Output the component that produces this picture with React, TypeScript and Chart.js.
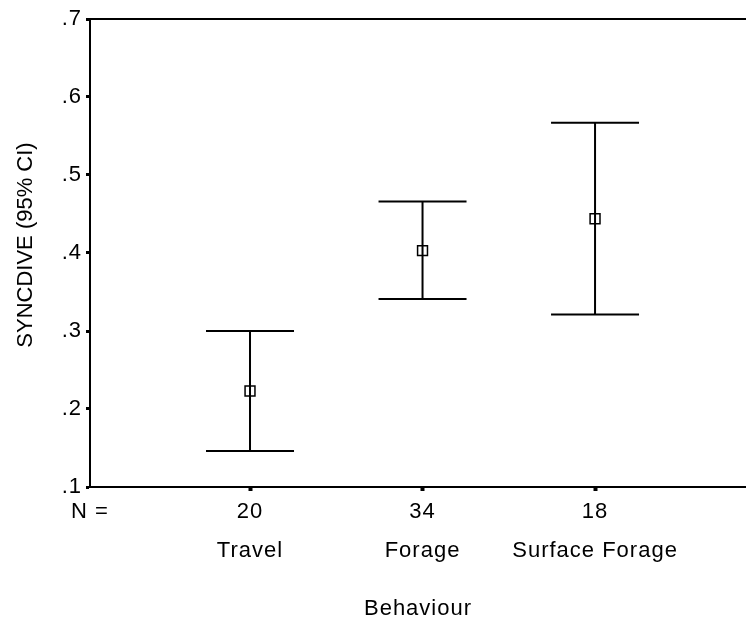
import { useEffect, useRef } from 'react';
import { Chart, registerables } from 'chart.js';

Chart.register(...registerables);

// Group labels, group sizes and the 95% confidence intervals of SYNCDIVE
const categories = ['Travel', 'Forage', 'Surface Forage'];
const groupSizes = [20, 34, 18];
const meanValues = [0.223, 0.403, 0.444];
const ciLower = [0.146, 0.341, 0.321];
const ciUpper = [0.3, 0.466, 0.567];

// Value axis range and tick step
const yMin = 0.1;
const yMax = 0.7;
const yStep = 0.1;

const nLabel = 'N =';
const xTitle = 'Behaviour';
const yTitle = 'SYNCDIVE (95% CI)';

const FONT_FAMILY = '"Liberation Sans", Arial, Helvetica, sans-serif';
const FONT_SIZE = 22;
const INK = '#000000';

// Whiskers with caps for each interval, plus the frame line along the top
const errorBarPlugin = {
  id: 'errorBars',
  beforeDraw(chart: any) {
    chart.ctx.letterSpacing = '1px';
  },
  afterDatasetsDraw(chart: any) {
    const { ctx, scales } = chart;
    const xs = scales.x;
    const ys = scales.y;
    const capHalf = 44;
    ctx.save();
    ctx.strokeStyle = INK;
    ctx.lineWidth = 2;
    ctx.lineCap = 'butt';
    categories.forEach((_, i) => {
      const px = xs.getPixelForValue(i + 1);
      const top = ys.getPixelForValue(ciUpper[i]);
      const bot = ys.getPixelForValue(ciLower[i]);
      ctx.beginPath();
      ctx.moveTo(px, top);
      ctx.lineTo(px, bot);
      ctx.moveTo(px - capHalf, top);
      ctx.lineTo(px + capHalf, top);
      ctx.moveTo(px - capHalf, bot);
      ctx.lineTo(px + capHalf, bot);
      ctx.stroke();
    });
    ctx.restore();
  },
  afterDraw(chart: any) {
    const { ctx, chartArea, scales } = chart;
    const yTop = scales.y.getPixelForValue(yMax);
    ctx.save();
    ctx.strokeStyle = INK;
    ctx.lineWidth = 2;
    ctx.beginPath();
    ctx.moveTo(chartArea.left - 1, yTop);
    ctx.lineTo(chartArea.right, yTop);
    ctx.stroke();

    // Rotated value-axis title
    ctx.letterSpacing = '0px';
    ctx.fillStyle = INK;
    ctx.font = `${FONT_SIZE}px ${FONT_FAMILY}`;
    ctx.textAlign = 'center';
    ctx.textBaseline = 'middle';
    ctx.translate(26, (chartArea.top + chartArea.bottom) / 2 - 8);
    ctx.rotate(-Math.PI / 2);
    ctx.fillText(yTitle, 0, 0);
    ctx.restore();
  },
};

const X_MIN = 0.0725;
const X_MAX = 3.875;

export default function App() {
  const canvasRef = useRef<HTMLCanvasElement | null>(null);

  useEffect(() => {
    const canvas = canvasRef.current;
    if (!canvas) return;

    const chart = new Chart(canvas, {
      type: 'scatter',
      data: {
        datasets: [
          {
            label: 'Mean',
            data: meanValues.map((v, i) => ({ x: i + 1, y: v })),
            pointStyle: 'rect',
            pointRadius: 7,
            pointHoverRadius: 7,
            pointBorderWidth: 1.5,
            borderColor: INK,
            backgroundColor: 'rgba(0,0,0,0)',
            showLine: false,
          } as any,
        ],
      },
      options: {
        animation: false,
        responsive: false,
        devicePixelRatio: 1,
        events: [],
        layout: { autoPadding: false, padding: { top: 19, right: 0, bottom: 0, left: 0 } },
        plugins: {
          legend: { display: false },
          tooltip: { enabled: false },
          title: { display: false },
        },
        scales: {
          x: {
            type: 'linear',
            position: 'bottom',
            min: X_MIN,
            max: X_MAX,
            afterBuildTicks: (scale: any) => {
              scale.ticks = [{ value: X_MIN }, ...categories.map((_, i) => ({ value: i + 1 }))];
            },
            afterFit: (scale: any) => {
              scale.height = 137;
              scale.paddingLeft = 0;
              scale.paddingRight = 0;
            },
            ticks: {
              autoSkip: false,
              maxRotation: 0,
              minRotation: 0,
              padding: 1,
              color: INK,
              font: { family: FONT_FAMILY, size: FONT_SIZE, lineHeight: '39px' } as any,
              callback: (_v: any, index: number) =>
                index === 0 ? nLabel : [String(groupSizes[index - 1]), categories[index - 1]],
            },
            grid: {
              display: true,
              drawOnChartArea: false,
              drawTicks: true,
              tickLength: 4,
              tickWidth: 4,
              tickColor: (ctx: any) => (ctx.index === 0 ? 'rgba(0,0,0,0)' : INK),
            } as any,
            border: { display: true, color: INK, width: 2 },
            title: {
              display: true,
              text: xTitle,
              color: INK,
              font: { family: FONT_FAMILY, size: FONT_SIZE },
              padding: { top: 0, bottom: 2 },
            },
          },
          y: {
            type: 'linear',
            min: yMin,
            max: yMax,
            afterFit: (scale: any) => {
              scale.width = 90;
            },
            ticks: {
              stepSize: yStep,
              padding: 4,
              color: INK,
              font: { family: FONT_FAMILY, size: FONT_SIZE },
              callback: (v: any) => Number(v).toFixed(1).replace(/^0/, ''),
            },
            grid: {
              display: true,
              drawOnChartArea: false,
              drawTicks: true,
              tickLength: 4,
              tickWidth: 3,
              tickColor: INK,
            } as any,
            border: { display: true, color: INK, width: 2 },
          },
        },
      },
      plugins: [errorBarPlugin],
    });

    return () => chart.destroy();
  }, []);

  return (
    <div style={{ position: 'absolute', left: 0, top: 0, width: 746, height: 624, background: '#fff' }}>
      <canvas ref={canvasRef} width={746} height={624} style={{ display: 'block' }} />
    </div>
  );
}
